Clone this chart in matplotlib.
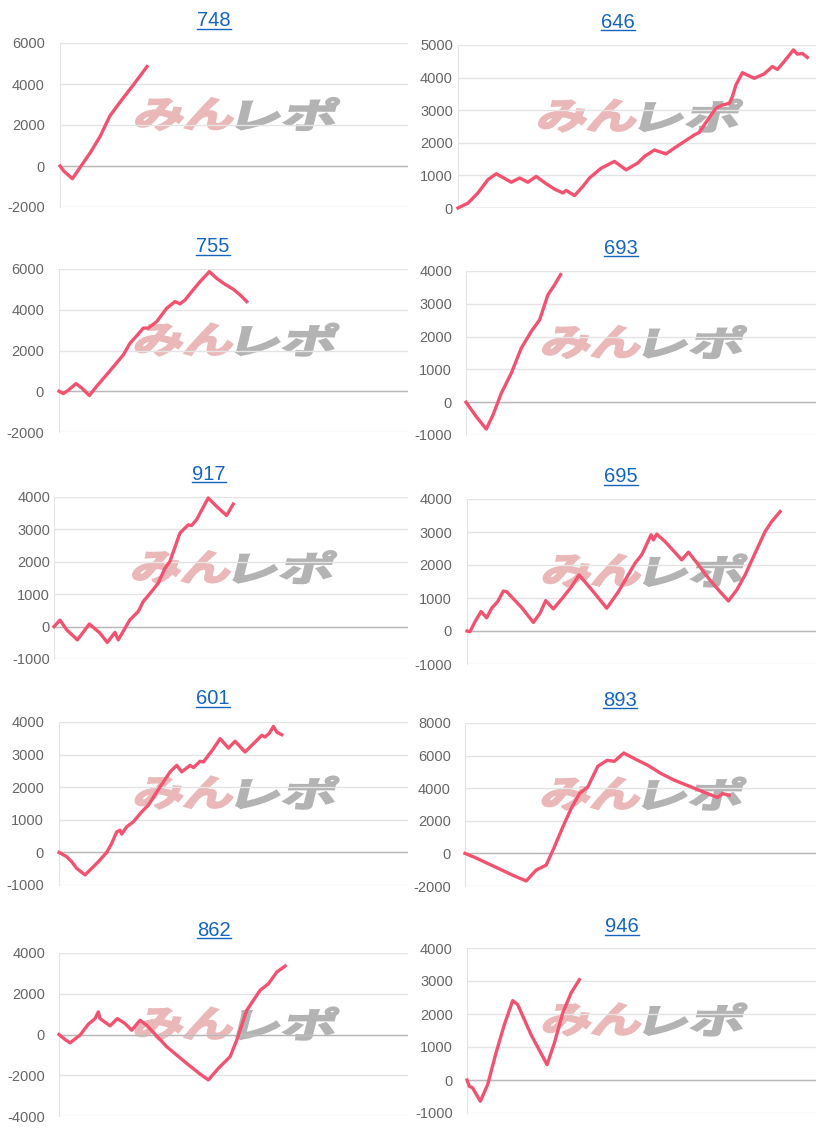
import matplotlib
matplotlib.use("Agg")
import matplotlib.pyplot as plt
from matplotlib.textpath import TextPath
from matplotlib.font_manager import FontProperties
from matplotlib.patches import PathPatch
from matplotlib.transforms import Affine2D
from matplotlib.lines import Line2D

plt.rcParams['axes.unicode_minus'] = False
plt.rcParams['font.family'] = ['Liberation Sans', 'DejaVu Sans']

# ---- data (games played, cumulative difference) ----
titles = ["748", "646", "755", "693", "917", "695", "601", "893", "862", "946"]

games_748 = [0, 100, 320, 600, 800, 1034, 1290, 1550, 1895, 2250]
diff_748 = [0, -250, -620, 150, 700, 1430, 2440, 3110, 3950, 4850]

games_646 = [0, 251, 500, 753, 963, 1340, 1550, 1757, 1966, 2217, 2427, 2636, 2720,
             2930, 3137, 3305, 3598, 3933, 4226, 4519, 4686, 4937, 5230, 5440, 5690,
             5940, 6066, 6275, 6485, 6650, 6820, 6900, 6985, 7150, 7444, 7695, 7904,
             8030, 8197, 8432, 8532, 8658, 8783]
diff_646 = [0, 150, 460, 870, 1050, 790, 920, 790, 970, 745, 580, 460, 540,
            380, 660, 920, 1220, 1430, 1170, 1380, 1580, 1780, 1660, 1840, 2040,
            2240, 2320, 2700, 3060, 3160, 3210, 3420, 3770, 4150, 3980, 4110, 4340,
            4250, 4490, 4850, 4720, 4740, 4620]

games_755 = [0, 112, 241, 439, 585, 783, 972, 1230, 1445, 1660, 1832, 2004, 2176,
             2305, 2520, 2778, 2993, 3122, 3251, 3423, 3638, 3879, 4068, 4240, 4498,
             4670, 4842]
diff_755 = [0, -115, 50, 375, 160, -210, 245, 815, 1300, 1790, 2360, 2720, 3100,
            3100, 3420, 4075, 4400, 4290, 4480, 4890, 5380, 5870, 5540, 5300, 5000,
            4730, 4400]

games_693 = [0, 264, 521, 694, 908, 1165, 1422, 1679, 1893, 2107, 2279, 2433]
diff_693 = [0, -440, -820, -390, 275, 885, 1650, 2160, 2510, 3275, 3580, 3890]

games_917 = [0, 152, 323, 594, 899, 1168, 1355, 1549, 1634, 1930, 2142, 2269, 2481,
             2650, 2820, 2947, 3201, 3412, 3497, 3624, 3921, 4133, 4387, 4556]
diff_917 = [0, 200, -100, -410, 80, -200, -490, -180, -410, 210, 465, 775, 1080,
            1340, 1800, 2010, 2885, 3140, 3120, 3300, 3970, 3710, 3430, 3780]

games_695 = [0, 77, 206, 361, 507, 636, 791, 937, 1023, 1410, 1711, 1883, 2029,
             2227, 2442, 2700, 2889, 3259, 3603, 3904, 4334, 4506, 4747, 4807, 4893,
             5108, 5538, 5710, 5968, 6226, 6484, 6742, 6957, 7172, 7430, 7688, 7860,
             8075]
diff_695 = [0, -20, 280, 590, 400, 690, 890, 1210, 1190, 710, 260, 540, 920,
            670, 970, 1350, 1700, 1190, 690, 1190, 2055, 2310, 2915, 2760, 2935,
            2710, 2155, 2390, 2005, 1600, 1245, 910, 1245, 1700, 2360, 3015, 3320,
            3620]

games_601 = [0, 198, 241, 327, 456, 671, 843, 1015, 1230, 1359, 1488, 1574, 1617,
             1746, 1918, 2133, 2305, 2520, 2692, 2864, 3036, 3165, 3380, 3466, 3638,
             3724, 3982, 4154, 4369, 4541, 4799, 5014, 5229, 5315, 5427, 5530, 5616,
             5745]
diff_601 = [0, -130, -185, -285, -490, -690, -490, -285, 0, 275, 630, 680, 560,
            785, 940, 1245, 1450, 1855, 2160, 2470, 2670, 2470, 2670, 2600, 2795,
            2775, 3180, 3490, 3200, 3410, 3080, 3335, 3590, 3540, 3660, 3865, 3690,
            3610]

games_893 = [0, 252, 760, 1271, 1570, 1826, 2082, 2295, 2509, 2722, 2935, 3149,
             3405, 3644, 3831, 4070, 4429, 4685, 5026, 5367, 5794, 6220, 6476, 6604,
             6775]
diff_893 = [0, -245, -815, -1390, -1690, -1020, -715, 410, 1630, 2750, 3670, 4080,
            5345, 5710, 5650, 6160, 5710, 5410, 4900, 4490, 4080, 3670, 3430, 3670,
            3570]

games_862 = [0, 155, 284, 542, 757, 929, 1015, 1058, 1316, 1505, 1703, 1875, 2090,
             2262, 2778, 3294, 3638, 3853, 4111, 4412, 4584, 4842, 5186, 5401, 5616,
             5831]
diff_862 = [0, -245, -410, -30, 505, 780, 1110, 780, 425, 780, 540, 210, 700,
            455, -600, -1420, -1940, -2230, -1660, -1090, -275, 1190, 2170, 2490,
            3065, 3360]

games_946 = [0, 60, 146, 344, 533, 748, 963, 1178, 1307, 1651, 2064, 2253, 2468,
             2683, 2898]
diff_946 = [0, -190, -240, -645, -140, 820, 1675, 2405, 2285, 1375, 465, 1120, 2030,
            2635, 3040]

games = [games_748, games_646, games_755, games_693, games_917,
         games_695, games_601, games_893, games_862, games_946]
diffs = [diff_748, diff_646, diff_755, diff_693, diff_917,
         diff_695, diff_601, diff_893, diff_862, diff_946]

yticks = [
    [-2000, 0, 2000, 4000, 6000],
    [0, 1000, 2000, 3000, 4000, 5000],
    [-2000, 0, 2000, 4000, 6000],
    [-1000, 0, 1000, 2000, 3000, 4000],
    [-1000, 0, 1000, 2000, 3000, 4000],
    [-1000, 0, 1000, 2000, 3000, 4000],
    [-1000, 0, 1000, 2000, 3000, 4000],
    [-2000, 0, 2000, 4000, 6000, 8000],
    [-4000, -2000, 0, 2000, 4000],
    [-1000, 0, 1000, 2000, 3000, 4000],
]
max_games = 9000

# ---- layout in pixels: left, top, right, bottom, title x, title y, label right edge ----
W, H = 816, 1135
boxes = [
    (60, 43, 408, 207, 214, 21, 45),
    (458, 45, 816, 208, 618, 22, 453),
    (59, 269, 408, 432, 213, 247, 44),
    (466, 271, 816, 435, 621, 248, 452),
    (54, 497, 408, 659, 209, 474, 50),
    (467, 499, 816, 664, 621, 477, 452),
    (59, 722, 408, 885, 213, 699, 44),
    (465, 723, 816, 886, 620, 700, 451),
    (59, 953, 408, 1116, 214, 930, 45),
    (467, 948, 816, 1113, 622, 927, 453),
]

line_color = '#f2526f'
grid_color = '#e4e4e4'
title_color = '#1565c0'

fig = plt.figure(figsize=(W / 100, H / 100), dpi=100)

logo_font = FontProperties(family='Noto Sans CJK JP', weight='bold')


def add_logo(x_left, y_center, text, color, w, h):
    # watermark text drawn as a slanted, stretched path (pixel coordinates)
    tp = TextPath((0, 0), text, size=40, prop=logo_font)
    ext = tp.get_extents()
    tr = (Affine2D().translate(-ext.x0, -ext.y0)
          .scale(w / ext.width, h / ext.height)
          .skew_deg(14, 0)
          .translate(x_left, H - y_center - h / 2))
    patch = PathPatch(tr.transform_path(tp), facecolor=color, edgecolor=color,
                      lw=1.6, transform=None, zorder=1)
    fig.add_artist(patch)


title_texts = []
for i in range(10):
    l, t, r, b, tx, ty, lab_r = boxes[i]
    ax = fig.add_axes([l / W, 1 - b / H, (r - l) / W, (b - t) / H])
    ax.set_xlim(0, max_games)
    ax.set_ylim(yticks[i][0], yticks[i][-1])
    ax.set_yticks(yticks[i])
    ax.set_yticklabels([str(v) for v in yticks[i]])
    ax.set_xticks([])
    ax.tick_params(axis='y', length=0, pad=(l - lab_r) * 0.72,
                   labelsize=10.5, labelcolor='#666666')
    ax.grid(axis='y', color=grid_color, lw=1)
    ax.set_axisbelow(True)
    for s in ['top', 'right', 'bottom']:
        ax.spines[s].set_visible(False)
    ax.spines['left'].set_color(grid_color)
    ax.axhline(0, color='#b8b8b8', lw=1, zorder=1.5)

    # watermark sits under the line
    cx = l + (r - l) * 0.5
    cy = b - (b - t) * 0.567
    add_logo(cx - 100, cy, "みん", '#eab8b8', 96, 32)
    add_logo(cx + 2, cy, "レポ", '#b3b3b3', 96, 32)

    ax.set_zorder(2)
    ax.patch.set_alpha(0)
    ax.plot(games[i], diffs[i], color=line_color, lw=2.4, zorder=3,
            solid_joinstyle='round', clip_on=False)

    t_obj = fig.text(tx / W, 1 - ty / H, titles[i], ha='center', va='center',
                     fontsize=14.5, color=title_color)
    title_texts.append(t_obj)

fig.canvas.draw()
renderer = fig.canvas.get_renderer()
for t_obj in title_texts:
    bb = t_obj.get_window_extent(renderer)
    y = bb.y0 + 1.5
    fig.add_artist(Line2D([bb.x0 / W, bb.x1 / W], [y / H, y / H],
                          transform=fig.transFigure, color=title_color, lw=1.0))

fig.savefig("out.png", dpi=100)
